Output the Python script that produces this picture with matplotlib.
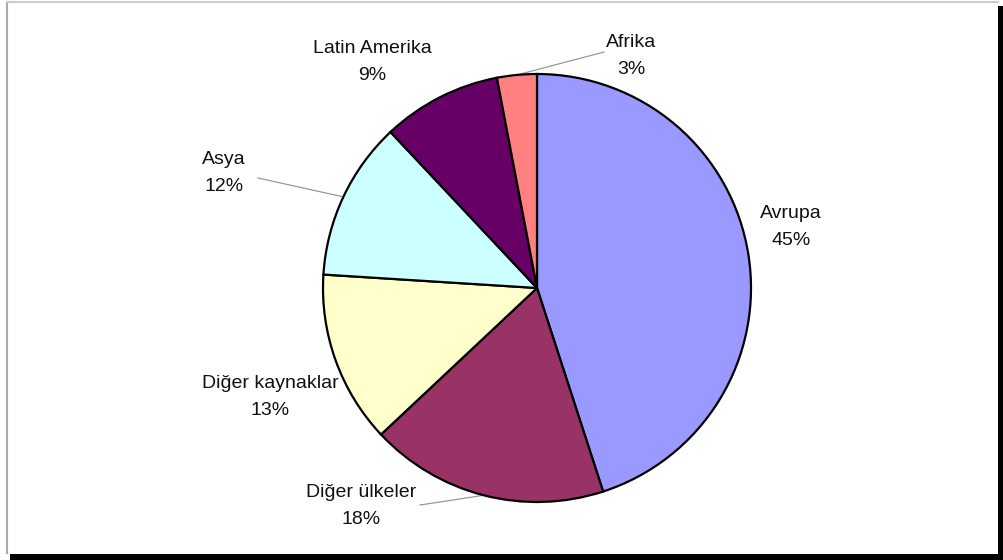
import numpy as np
import matplotlib
matplotlib.use("Agg")
import matplotlib.pyplot as plt
from matplotlib.patches import Rectangle

plt.rcParams['font.family'] = ['Liberation Sans', 'DejaVu Sans']

# --- data ---
labels = ["Avrupa", "Diğer ülkeler", "Diğer kaynaklar", "Asya", "Latin Amerika", "Afrika"]
shares = [45, 18, 13, 12, 9, 3]
colors = ["#9999FF", "#993366", "#FFFFCC", "#CCFFFF", "#660066", "#FF8080"]

# label anchor points (pixel units, y from top) and which ones get a leader line
label_pos = [(791, 227), (361, 506), (270, 397), (224, 173), (372, 62), (631, 56)]
leader = [None, (420, 505), None, (258, 178), None, (604, 52)]

W, H = 1004, 560
fig = plt.figure(figsize=(W / 100, H / 100), dpi=100)
ax = fig.add_axes([0, 0, 1, 1])

cx, cy, R = 537, H - 288, 214
wedges, _ = ax.pie(shares, colors=colors, startangle=90, counterclock=False,
                   center=(cx, cy), radius=R, frame=True,
                   wedgeprops=dict(edgecolor='black', linewidth=1.6))
ax.set_xlim(0, W)
ax.set_ylim(0, H)
ax.set_aspect('equal')
ax.axis('off')

for w, lab, s, pos, ld in zip(wedges, labels, shares, label_pos, leader):
    ax.text(pos[0], H - pos[1], f"{lab}\n{s}%", ha='center', va='center',
            fontsize=14, linespacing=1.8, color='#111111')
    if ld is not None:
        mid = np.deg2rad((w.theta1 + w.theta2) / 2)
        ex, ey = cx + R * np.cos(mid), cy + R * np.sin(mid)
        ax.plot([ex, ld[0]], [ey, H - ld[1]], color='#999999', lw=0.9, zorder=0)

# chart frame with drop shadow
fig.add_artist(plt.Line2D([7 / W, 7 / W], [1 - 2 / H, 7 / H], transform=fig.transFigure,
                          color='#aaaaaa', lw=1.5))
fig.add_artist(plt.Line2D([7 / W, 998 / W], [1 - 2 / H, 1 - 2 / H], transform=fig.transFigure,
                          color='#cccccc', lw=1.5))
fig.add_artist(Rectangle((10 / W, 0), 994 / W, 6 / H, transform=fig.transFigure,
                         color='black', lw=0))
fig.add_artist(Rectangle((998 / W, 0), 6 / W, 1 - 6 / H, transform=fig.transFigure,
                         color='black', lw=0))

fig.savefig("out.png", dpi=100)
